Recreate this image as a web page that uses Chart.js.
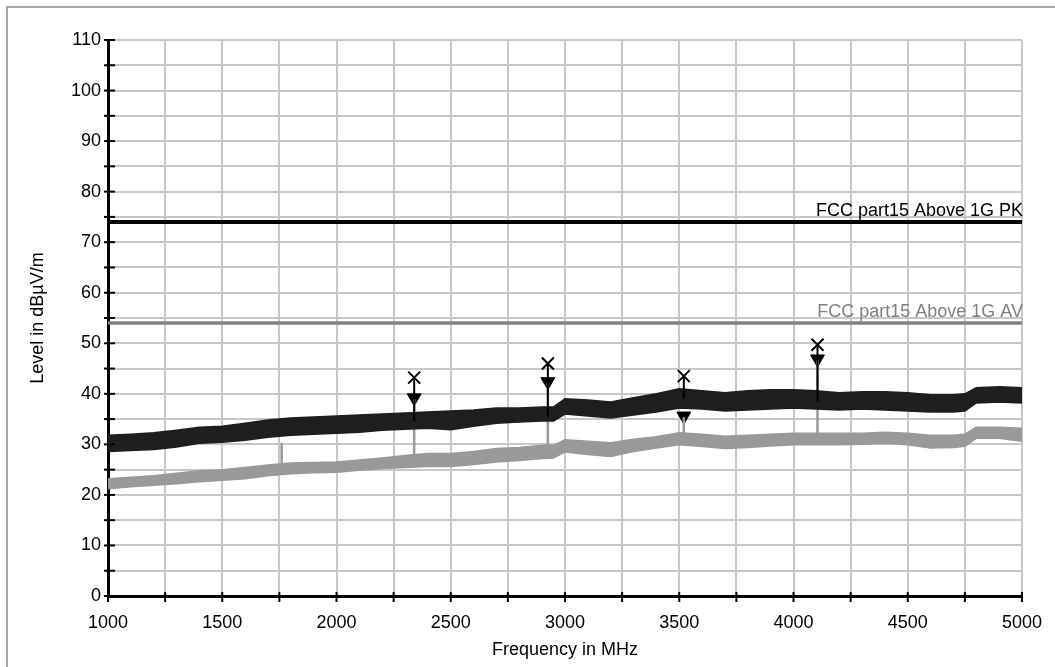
<!DOCTYPE html>
<html>
<head>
<meta charset="utf-8">
<script src="https://cdn.jsdelivr.net/npm/chart.js@4.4.1/dist/chart.umd.min.js"></script>
<style>
  html, body { margin: 0; padding: 0; background: #fff; }
  #wrap { width: 1055px; height: 667px; position: relative; }
</style>
</head>
<body>
<div id="wrap"><canvas id="chart" width="1055" height="667"></canvas></div>
<script>
// frequency points (MHz) where the trace envelopes were read
const freqs = [1000, 1100, 1200, 1300, 1400, 1500, 1600, 1700, 1800, 1900,
  2000, 2100, 2200, 2300, 2400, 2500, 2600, 2700, 2800, 2900, 2950,
  3000, 3100, 3200, 3300, 3400, 3500, 3600, 3700, 3800, 3900,
  4000, 4100, 4200, 4300, 4400, 4500, 4600, 4700, 4750, 4800, 4900, 5000];

// peak trace, upper / lower edge of the noise band (dBuV/m)
const pkUpper = [31.8, 32.0, 32.3, 32.8, 33.4, 33.6, 34.2, 34.8, 35.2, 35.4,
  35.6, 35.8, 36.0, 36.2, 36.4, 36.6, 36.8, 37.2, 37.2, 37.4, 37.4,
  39.0, 38.8, 38.4, 39.2, 40.0, 41.0, 40.6, 40.2, 40.6, 40.8,
  40.8, 40.6, 40.2, 40.4, 40.4, 40.2, 39.8, 39.8, 40.0, 41.2, 41.4, 41.2];
const pkLower = [28.6, 28.8, 29.0, 29.5, 30.2, 30.4, 30.8, 31.4, 31.8, 32.0,
  32.2, 32.4, 32.8, 33.0, 33.2, 32.9, 33.6, 34.2, 34.4, 34.6, 34.6,
  36.0, 35.6, 35.2, 35.8, 36.4, 37.2, 37.0, 36.6, 36.8, 37.0,
  37.2, 37.0, 36.8, 37.0, 36.8, 36.6, 36.4, 36.4, 36.6, 38.2, 38.4, 38.2];

// average trace
const avUpper = [23.2, 23.5, 23.8, 24.3, 24.8, 25.0, 25.4, 25.9, 26.3, 26.4,
  26.5, 26.9, 27.3, 27.8, 28.2, 28.2, 28.6, 29.2, 29.4, 29.8, 29.8,
  30.9, 30.6, 30.3, 31.0, 31.5, 32.3, 32.0, 31.6, 31.8, 32.0,
  32.2, 32.2, 32.2, 32.2, 32.4, 32.2, 31.8, 31.8, 32.0, 33.4, 33.4, 33.2];
const avLower = [21.2, 21.6, 21.9, 22.2, 22.6, 22.9, 23.2, 23.8, 24.2, 24.4,
  24.5, 24.9, 25.2, 25.4, 25.6, 25.6, 26.0, 26.5, 26.8, 27.2, 27.3,
  28.5, 28.0, 27.6, 28.6, 29.3, 29.9, 29.6, 29.2, 29.4, 29.7,
  29.9, 29.9, 29.9, 30.0, 30.2, 29.9, 29.3, 29.4, 29.6, 31.2, 31.2, 30.6];

// final measurements
const markerFreqs = [2340, 2925, 3520, 4105];
const pkFinal = [43.2, 46.0, 43.5, 49.7];
const avFinal = [39.2, 42.4, 35.6, 46.9];
const pkSpikeBase = [34.5, 35.5, 39.0, 38.5];

// spikes in the average trace
const avSpikeFreqs = [1760, 2340, 2925, 3520, 4105];
const avSpikeTop = [30.3, 39.0, 42.2, 35.4, 46.7];
const avSpikeBase = [24.5, 26.0, 27.5, 30.0, 30.0];

// limit lines
const limitFreqs = [1000, 5000];
const pkLimit = [74, 74];
const avLimit = [54, 54];
const pkLimitLabel = "FCC part15 Above 1G PK";
const avLimitLabel = "FCC part15 Above 1G AV";

const FONT = "'Liberation Sans', Arial, sans-serif";
const PK_COLOR = "#1e1e1e";
const AV_COLOR = "#999999";
const AV_LIMIT_COLOR = "#808080";

const pts = (xs, ys) => xs.map((x, i) => ({ x: x, y: ys[i] }));

const datasets = [];

// limit lines
datasets.push({ data: pts(limitFreqs, pkLimit), borderColor: "#000", borderWidth: 4, pointRadius: 0, limitLabel: pkLimitLabel, labelColor: "#000" });
datasets.push({ data: pts(limitFreqs, avLimit), borderColor: AV_LIMIT_COLOR, borderWidth: 3.5, pointRadius: 0, limitLabel: avLimitLabel, labelColor: AV_LIMIT_COLOR });

// peak spikes
markerFreqs.forEach((f, i) => {
  datasets.push({ data: [{ x: f, y: pkSpikeBase[i] }, { x: f, y: pkFinal[i] }], borderColor: "#000", borderWidth: 2, pointRadius: 0 });
});

// peak band
datasets.push({ data: pts(freqs, pkUpper), borderColor: PK_COLOR, backgroundColor: PK_COLOR, borderWidth: 1.5, pointRadius: 0, fill: "+1" });
datasets.push({ data: pts(freqs, pkLower), borderColor: PK_COLOR, borderWidth: 1.5, pointRadius: 0, fill: false });

// average band
datasets.push({ data: pts(freqs, avUpper), borderColor: AV_COLOR, backgroundColor: AV_COLOR, borderWidth: 1.5, pointRadius: 0, fill: "+1" });
datasets.push({ data: pts(freqs, avLower), borderColor: AV_COLOR, borderWidth: 1.5, pointRadius: 0, fill: false });

// average spikes
avSpikeFreqs.forEach((f, i) => {
  datasets.push({ data: [{ x: f, y: avSpikeBase[i] }, { x: f, y: avSpikeTop[i] }], borderColor: AV_COLOR, borderWidth: 2.5, pointRadius: 0 });
});

// markers
datasets.push({ type: "scatter", data: pts(markerFreqs, pkFinal), pointStyle: "crossRot", pointRadius: 8.5, borderColor: "#000", borderWidth: 2, backgroundColor: "#000" });
datasets.push({ type: "scatter", data: pts(markerFreqs, avFinal), pointStyle: "triangle", rotation: 180, pointRadius: 8, borderColor: "#000", borderWidth: 1, backgroundColor: "#000" });

// outer frame, limit labels and crossing tick marks
const extras = {
  id: "extras",
  beforeDraw(chart) {
    const ctx = chart.ctx;
    ctx.save();
    ctx.strokeStyle = "#aaaaaa";
    ctx.lineWidth = 2;
    ctx.beginPath();
    ctx.moveTo(7, chart.height);
    ctx.lineTo(7, 7);
    ctx.lineTo(chart.width, 7);
    ctx.stroke();
    ctx.restore();
  },
  afterDraw(chart) {
    const ctx = chart.ctx;
    const area = chart.chartArea;
    const xs = chart.scales.x, ys = chart.scales.y;
    ctx.save();
    ctx.strokeStyle = "#000";
    ctx.lineWidth = 2;
    ys.ticks.forEach(t => {
      const py = ys.getPixelForValue(t.value);
      ctx.beginPath();
      ctx.moveTo(area.left - 4, py);
      ctx.lineTo(area.left + 7, py);
      ctx.stroke();
    });
    xs.ticks.forEach(t => {
      const px = xs.getPixelForValue(t.value);
      ctx.beginPath();
      ctx.moveTo(px, area.bottom - 4);
      ctx.lineTo(px, area.bottom + 6);
      ctx.stroke();
    });
    ctx.font = "18px " + FONT;
    ctx.textAlign = "right";
    ctx.textBaseline = "alphabetic";
    chart.data.datasets.forEach(ds => {
      if (!ds.limitLabel) return;
      const py = ys.getPixelForValue(ds.data[1].y);
      ctx.fillStyle = ds.labelColor;
      ctx.fillText(ds.limitLabel, area.right + 1, py - 6);
    });
    ctx.restore();
  }
};

new Chart(document.getElementById("chart"), {
  type: "line",
  data: { datasets: datasets },
  options: {
    responsive: false,
    animation: false,
    events: [],
    layout: { padding: { top: 40, right: 33, left: 0, bottom: 0 } },
    plugins: { legend: { display: false }, tooltip: { enabled: false } },
    elements: { line: { tension: 0 } },
    scales: {
      x: {
        type: "linear",
        min: 1000,
        max: 5000,
        afterFit: s => { s.height = 71; s.paddingRight = 0; s.paddingLeft = 0; },
        ticks: {
          stepSize: 250,
          maxTicksLimit: 100,
          autoSkip: false,
          maxRotation: 0,
          padding: 16,
          color: "#000",
          font: { family: FONT, size: 18 },
          callback: v => (v % 500 === 0 ? String(v) : "")
        },
        grid: { color: "#c8c8c8", lineWidth: 2, drawTicks: false },
        border: { color: "#000", width: 3 },
        title: { display: true, text: "Frequency in MHz", color: "#000", font: { family: FONT, size: 18 }, padding: { top: 0, bottom: 6 } }
      },
      y: {
        min: 0,
        max: 110,
        afterFit: s => { s.width = 108; },
        ticks: {
          stepSize: 5,
          maxTicksLimit: 100,
          autoSkip: false,
          padding: 7,
          color: "#000",
          font: { family: FONT, size: 18 },
          callback: v => (v % 10 === 0 ? String(v) : "")
        },
        grid: { color: "#c8c8c8", lineWidth: 2, drawTicks: false },
        border: { color: "#000", width: 3 },
        title: { display: true, text: "Level in dBµV/m", color: "#000", font: { family: FONT, size: 18 }, padding: { top: 27, bottom: 0 } }
      }
    }
  },
  plugins: [extras]
});
</script>
</body>
</html>
